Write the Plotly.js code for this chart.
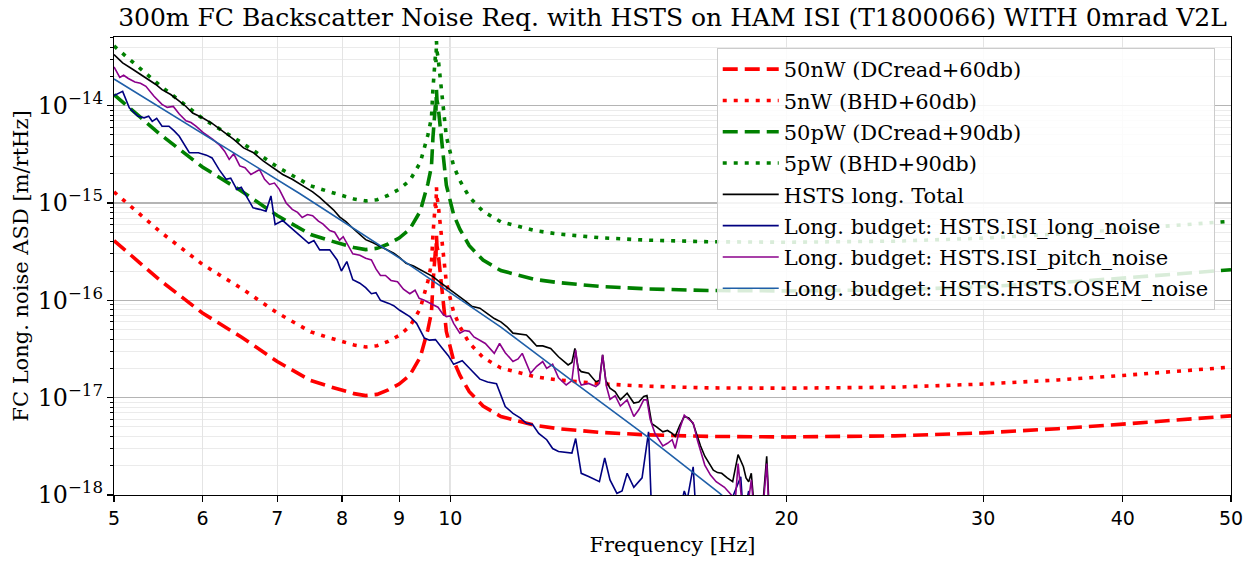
<!DOCTYPE html>
<html>
<head>
<meta charset="utf-8">
<script src="https://cdn.plot.ly/plotly-3.0.1.min.js"></script>
<style>html,body{margin:0;padding:0;background:#fff;}#chart{width:1253px;height:562px;}</style>
</head>
<body>
<div id="chart"></div>
<script>
// ---- Requirement curves (frequency grid shared by the four requirement lines) ----
const freqReq = [5,5.5,6,6.5,7,7.5,7.8,8,8.2,8.4,8.6,8.8,9,9.2,9.4,9.55,9.62,9.65,9.67,9.68,9.7,9.71,9.72,9.73,9.75,9.78,9.82,9.92,10.07,10.2,10.4,10.7,11.1,11.9,12.5,13.6,15,17,20,25,30,35,40,45,50];
const req50nW = [4.1e-16,1.6e-16,7.4e-17,4.2e-17,2.35e-17,1.5e-17,1.3e-17,1.2e-17,1.1e-17,1.05e-17,1.08e-17,1.2e-17,1.38e-17,1.7e-17,2.6e-17,5.0e-17,7.5e-17,1.5e-16,2.2e-16,1.9e-16,3.3e-16,2.8e-16,4.6e-16,3.6e-16,3.2e-16,2.3e-16,1.55e-16,4.8e-17,2.4e-17,1.7e-17,1.15e-17,8.2e-18,6.4e-18,5.2e-18,4.8e-18,4.4e-18,4.15e-18,4.0e-18,3.95e-18,4.05e-18,4.35e-18,4.8e-18,5.35e-18,5.9e-18,6.5e-18];
const req5nW = [1.3e-15,5.06e-16,2.34e-16,1.33e-16,7.43e-17,4.74e-17,4.11e-17,3.79e-17,3.48e-17,3.32e-17,3.42e-17,3.79e-17,4.36e-17,5.38e-17,8.22e-17,1.58e-16,2.37e-16,4.74e-16,6.96e-16,6.01e-16,1.04e-15,8.85e-16,1.45e-15,1.14e-15,1.01e-15,7.27e-16,4.9e-16,1.52e-16,7.59e-17,5.38e-17,3.64e-17,2.59e-17,2.02e-17,1.64e-17,1.52e-17,1.39e-17,1.31e-17,1.26e-17,1.25e-17,1.28e-17,1.38e-17,1.52e-17,1.69e-17,1.87e-17,2.06e-17];
const req50pW = [1.3e-14,5.06e-15,2.34e-15,1.33e-15,7.43e-16,4.74e-16,4.11e-16,3.79e-16,3.48e-16,3.32e-16,3.42e-16,3.79e-16,4.36e-16,5.38e-16,8.22e-16,1.58e-15,2.37e-15,4.74e-15,6.96e-15,6.01e-15,1.04e-14,8.85e-15,1.45e-14,1.14e-14,1.01e-14,7.27e-15,4.9e-15,1.52e-15,7.59e-16,5.38e-16,3.64e-16,2.59e-16,2.02e-16,1.64e-16,1.52e-16,1.39e-16,1.31e-16,1.26e-16,1.25e-16,1.28e-16,1.38e-16,1.52e-16,1.69e-16,1.87e-16,2.06e-16];
const req5pW = [4.1e-14,1.6e-14,7.4e-15,4.2e-15,2.35e-15,1.5e-15,1.3e-15,1.2e-15,1.1e-15,1.05e-15,1.08e-15,1.2e-15,1.38e-15,1.7e-15,2.6e-15,5.0e-15,7.5e-15,1.5e-14,2.2e-14,1.9e-14,3.3e-14,2.8e-14,4.6e-14,3.6e-14,3.2e-14,2.3e-14,1.55e-14,4.8e-15,2.4e-15,1.7e-15,1.15e-15,8.2e-16,6.4e-16,5.2e-16,4.8e-16,4.4e-16,4.15e-16,4.0e-16,3.95e-16,4.05e-16,4.35e-16,4.8e-16,5.35e-16,5.9e-16,6.5e-16];

// ---- HSTS long. Total ----
const freqTotal = [5.0,5.09,5.2,5.34,5.45,5.52,5.62,5.72,5.8,5.88,6.0,6.13,6.26,6.4,6.53,6.66,6.8,6.93,7.08,7.22,7.37,7.53,7.64,7.75,7.86,7.96,8.07,8.18,8.3,8.4,8.53,8.66,8.78,8.9,9.01,9.13,9.27,9.4,9.52,9.65,9.78,9.92,10.05,10.2,10.32,10.45,10.63,10.78,10.95,11.1,11.24,11.38,11.55,11.7,11.82,11.95,12.1,12.3,12.5,12.75,12.85,12.93,13.02,13.1,13.3,13.5,13.6,13.69,13.78,13.9,14.05,14.2,14.4,14.6,14.75,14.9,15.0,15.15,15.3,15.5,15.65,15.8,15.9,16.05,16.2,16.35,16.5,16.6,16.75,16.9,17.05,17.2,17.35,17.5,17.7,17.9,18.1,18.3,18.4,18.5,18.6,18.7,18.9,19.05,19.2,19.3,19.6,20];
const totalASD = [3.35e-14,2.75e-14,2.35e-14,1.93e-14,1.65e-14,1.46e-14,1.3e-14,1.11e-14,9.8e-15,8.4e-15,7.5e-15,6.5e-15,5.46e-15,4.5e-15,3.68e-15,3.3e-15,2.7e-15,2.3e-15,1.96e-15,1.75e-15,1.5e-15,1.3e-15,1.14e-15,9.9e-16,8.5e-16,7.2e-16,6.4e-16,5.5e-16,4.8e-16,4.2e-16,3.9e-16,3.55e-16,3.3e-16,3.05e-16,2.75e-16,2.4e-16,2.25e-16,2.05e-16,1.9e-16,1.75e-16,1.55e-16,1.38e-16,1.22e-16,1.1e-16,9.8e-17,8.7e-17,8.3e-17,7.4e-17,6.5e-17,6.0e-17,5.35e-17,4.6e-17,4.5e-17,4.4e-17,3.9e-17,3.4e-17,3.4e-17,3.2e-17,2.63e-17,2.17e-17,2.3e-17,3.2e-17,2.0e-17,1.85e-17,1.78e-17,1.46e-17,1.5e-17,2.75e-17,1.5e-17,1.25e-17,1.15e-17,9.5e-18,1.11e-17,8.8e-18,9.0e-18,1.03e-17,1.05e-17,5.4e-18,5.0e-18,4.45e-18,4.6e-18,4.3e-18,4.0e-18,5.2e-18,6.4e-18,6.2e-18,5.4e-18,4.3e-18,3.2e-18,2.5e-18,2.1e-18,1.8e-18,1.7e-18,1.67e-18,1.5e-18,1.37e-18,2.6e-18,1.95e-18,1.5e-18,1.37e-18,1.67e-18,8e-19,7e-19,8e-19,2.5e-18,7e-19,6e-19,5e-19];

// ---- Long. budget: HSTS.ISI_long_noise ----
const freqLong = [5.0,5.09,5.16,5.25,5.32,5.37,5.41,5.46,5.52,5.6,5.66,5.72,5.84,5.95,6.05,6.12,6.21,6.3,6.36,6.44,6.5,6.57,6.66,6.75,6.84,6.91,6.97,7.08,7.2,7.33,7.47,7.55,7.64,7.8,7.92,7.99,8.08,8.18,8.3,8.4,8.5,8.58,8.66,8.81,8.9,9.01,9.1,9.2,9.33,9.48,9.58,9.7,9.82,9.96,10.07,10.15,10.25,10.45,10.63,10.8,11.0,11.2,11.38,11.55,11.7,11.85,12.0,12.2,12.35,12.5,12.7,12.85,12.95,13.1,13.3,13.6,13.75,13.9,14.1,14.25,14.4,14.6,14.85,15.05,15.15,15.5,16.0,16.2,16.3,16.5,16.6,17.5,18.2,18.3,18.5,18.6,20];
const longASD = [1.27e-14,1.4e-14,9.5e-15,7.8e-15,7.5e-15,7.8e-15,6.9e-15,7.4e-15,6.15e-15,6.15e-15,5.5e-15,4.85e-15,3.28e-15,3.28e-15,3.1e-15,2.9e-15,2.2e-15,1.75e-15,1.8e-15,1.38e-15,1.45e-15,1.18e-15,8.9e-16,8.6e-16,8.2e-16,1.18e-15,6.0e-16,6.6e-16,5.6e-16,4.7e-16,3.85e-16,4.1e-16,3.3e-16,3.3e-16,2.6e-16,2.0e-16,2.5e-16,1.63e-16,1.5e-16,1.35e-16,1.17e-16,1.2e-16,1.0e-16,9.3e-17,8.8e-17,7.9e-17,7.4e-17,6.8e-17,5.8e-17,4.1e-17,3.9e-17,3.95e-17,3.3e-17,2.7e-17,2.2e-17,2.3e-17,2.4e-17,1.9e-17,1.55e-17,1.45e-17,1.39e-17,8.1e-18,6.9e-18,6.2e-18,5.45e-18,5.3e-18,4.3e-18,3.7e-18,3.0e-18,2.8e-18,2.75e-18,2.7e-18,3.8e-18,1.67e-18,1.55e-18,1.37e-18,2.4e-18,1.43e-18,1.04e-18,1.1e-18,1.67e-18,1.2e-18,1.5e-18,4.45e-18,6e-19,5e-19,6e-19,1.1e-18,9e-19,1.95e-18,6e-19,5e-19,1.54e-18,6e-19,1.1e-18,6e-19,5e-19];

// ---- Long. budget: HSTS.ISI_pitch_noise ----
const freqPitch = [5.0,5.06,5.1,5.15,5.22,5.28,5.34,5.43,5.52,5.58,5.65,5.72,5.8,5.86,5.92,6.02,6.13,6.22,6.28,6.34,6.4,6.48,6.55,6.63,6.75,6.82,6.89,6.96,7.03,7.13,7.22,7.3,7.37,7.45,7.53,7.62,7.69,7.8,7.88,7.96,8.02,8.1,8.18,8.3,8.4,8.5,8.58,8.66,8.75,8.85,8.97,9.08,9.2,9.3,9.38,9.48,9.58,9.65,9.75,9.85,9.92,10.0,10.07,10.2,10.3,10.4,10.5,10.63,10.75,10.95,11.07,11.2,11.38,11.5,11.6,11.8,11.95,12.1,12.2,12.35,12.5,12.7,12.85,12.95,13.05,13.1,13.3,13.5,13.6,13.69,13.8,13.9,14.05,14.2,14.4,14.6,14.75,14.9,15.0,15.1,15.25,15.5,15.65,15.8,15.9,16.05,16.2,16.35,16.5,16.65,16.9,17.1,17.3,17.6,18.0,18.1,18.25,18.5,18.6,18.7,19.05,19.2,19.3,20];
const pitchASD = [2.5e-14,1.95e-14,2.05e-14,1.9e-14,1.75e-14,1.7e-14,1.58e-14,1.25e-14,1.03e-14,9.6e-15,9.8e-15,8.2e-15,7.0e-15,6.7e-15,6.15e-15,5.2e-15,4.5e-15,3.9e-15,3.4e-15,2.8e-15,3.2e-15,2.4e-15,2.3e-15,1.96e-15,2.2e-15,1.75e-15,1.55e-15,1.6e-15,1.38e-15,1.0e-15,8.6e-16,8.0e-16,7.1e-16,7.6e-16,7.4e-16,6.5e-16,6.1e-16,5.2e-16,5.0e-16,4.15e-16,4.5e-16,3.6e-16,3.0e-16,2.9e-16,2.7e-16,2.6e-16,2.1e-16,1.8e-16,1.8e-16,1.6e-16,1.55e-16,1.3e-16,1.17e-16,1.27e-16,1.05e-16,1.0e-16,9.5e-17,9.0e-17,8.5e-17,7.2e-17,6.8e-17,6.9e-17,5.8e-17,4.6e-17,4.9e-17,4.8e-17,4.2e-17,3.9e-17,3.6e-17,2.85e-17,3.6e-17,2.9e-17,2.35e-17,2.5e-17,2.85e-17,1.78e-17,2.1e-17,2.35e-17,2.0e-17,2.2e-17,1.6e-17,1.35e-17,1.5e-17,3.1e-17,1.5e-17,1.35e-17,1.4e-17,1.3e-17,1.4e-17,2.75e-17,1.3e-17,9.6e-18,1.05e-17,8.2e-18,9.5e-18,6.4e-18,7.5e-18,9.5e-18,9.5e-18,6.0e-18,4.3e-18,3.2e-18,3.4e-18,3.7e-18,3.0e-18,4.8e-18,6.6e-18,6.0e-18,5.5e-18,3.6e-18,2.03e-18,1.6e-18,1.37e-18,1.2e-18,9e-19,2.1e-18,8e-19,9e-19,1.43e-18,7e-19,7e-19,2.1e-18,6e-19,5e-19];

// ---- Long. budget: HSTS.HSTS.OSEM_noise ----
const freqOsem = [5,6,7.33,9,11.1,13,15,17.43,18];
const osemASD = [1.88e-14,5.15e-15,1.25e-15,2.73e-16,5.3e-17,1.35e-17,4.0e-18,1.04e-18,7.5e-19];

// ---- Axis ticks ----
const xTickVals = [5,6,7,8,9,10,20,30,40,50];
const xTickText = ['5','6','7','8','9','10','20','30','40','50'];
const xRange = [5, 50];
const yRange = [1e-18, 5.07e-14];

const names = ['50nW (DCread+60db)','5nW (BHD+60db)','50pW (DCread+90db)','5pW (BHD+90db)',
  'HSTS long. Total','Long. budget: HSTS.ISI_long_noise','Long. budget: HSTS.ISI_pitch_noise','Long. budget: HSTS.HSTS.OSEM_noise'];

const DASH = '15px,7px';
const DOT = '4px,7px';
const traces = [
  {x: freqReq, y: req50nW, name: names[0], line: {color: '#ff0000', width: 3.6, dash: DASH}},
  {x: freqReq, y: req5nW, name: names[1], line: {color: '#ff0000', width: 3.6, dash: DOT}},
  {x: freqReq, y: req50pW, name: names[2], line: {color: '#008000', width: 3.6, dash: DASH}},
  {x: freqReq, y: req5pW, name: names[3], line: {color: '#008000', width: 3.6, dash: DOT}},
  {x: freqTotal, y: totalASD, name: names[4], line: {color: '#000000', width: 1.6}},
  {x: freqLong, y: longASD, name: names[5], line: {color: '#000080', width: 1.6}},
  {x: freqPitch, y: pitchASD, name: names[6], line: {color: '#8b008b', width: 1.6}},
  {x: freqOsem, y: osemASD, name: names[7], line: {color: '#1f5fa8', width: 1.6}}
].map((t, i) => Object.assign({type: 'scatter', mode: 'lines', legendgroup: 'g' + i, hoverinfo: 'skip'}, t));

const serif = 'DejaVu Serif';
const layout = {
  width: 1253, height: 562,
  paper_bgcolor: '#ffffff', plot_bgcolor: '#ffffff',
  margin: {l: 114, r: 22, t: 37, b: 67},
  title: {text: '300m FC Backscatter Noise Req. with HSTS on HAM ISI (T1800066) WITH 0mrad V2L',
    font: {family: serif, size: 25, color: '#000'}, x: 0.5, xref: 'paper', xanchor: 'center',
    y: 1 - 17 / 562, yref: 'container', yanchor: 'middle'},
  showlegend: true,
  legend: {x: 0.5396, y: 0.976, xanchor: 'left', yanchor: 'top',
    bgcolor: 'rgba(255,255,255,0.85)', bordercolor: '#cccccc', borderwidth: 1,
    font: {family: serif, size: 21, color: '#000'}, itemwidth: 56, tracegroupgap: 1, traceorder: 'grouped'},
  xaxis: {type: 'log', range: xRange.map(Math.log10), tickmode: 'array', tickvals: xTickVals, ticktext: xTickText,
    showgrid: true, gridcolor: '#e4e4e4', gridwidth: 1, zeroline: false,
    showline: true, linecolor: '#000', linewidth: 1.2, mirror: true,
    ticks: 'outside', ticklen: 6, tickwidth: 1.2, tickcolor: '#000',
    tickfont: {family: 'DejaVu Sans', size: 19, color: '#000'},
    title: {text: 'Frequency [Hz]', font: {family: serif, size: 21, color: '#000'}, standoff: 9}},
  yaxis: {type: 'log', range: yRange.map(Math.log10), dtick: 1, exponentformat: 'power', showexponent: 'all',
    showgrid: true, gridcolor: '#b4b4b4', gridwidth: 1.3, zeroline: false,
    showline: true, linecolor: '#000', linewidth: 1.2, mirror: true,
    ticks: 'outside', ticklen: 6, tickwidth: 1.2, tickcolor: '#000',
    minor: {dtick: 'D1', showgrid: true, gridcolor: '#ebebeb', gridwidth: 1, ticks: 'outside', ticklen: 3, tickcolor: '#000', tickwidth: 1},
    tickfont: {family: serif, size: 19, color: '#000'},
    title: {text: 'FC Long. noise ASD [m/rtHz]', font: {family: serif, size: 21, color: '#000'}, standoff: 3}},
  shapes: [{type: 'line', xref: 'x', yref: 'paper', x0: 10, x1: 10, y0: 0, y1: 1, layer: 'below',
    line: {color: '#b4b4b4', width: 1.3}}]
};

Plotly.newPlot('chart', traces, layout, {displayModeBar: false, staticPlot: true});
</script>
</body>
</html>
